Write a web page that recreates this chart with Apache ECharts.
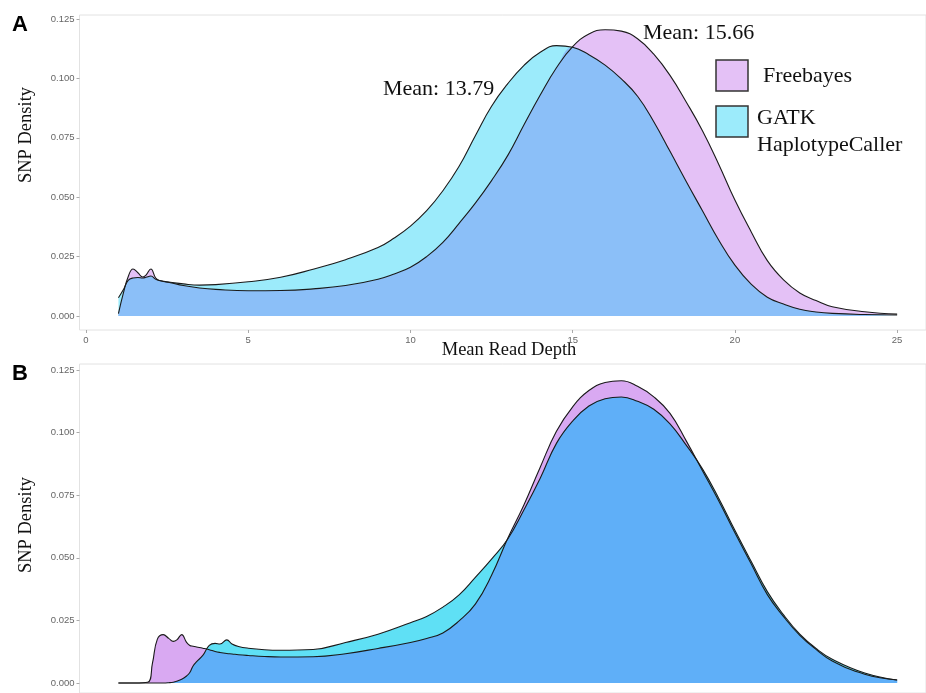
<!DOCTYPE html>
<html><head><meta charset="utf-8">
<script src="https://cdn.jsdelivr.net/npm/echarts@6/dist/echarts.min.js"></script>
<style>html,body{margin:0;padding:0;background:#fff}#c{width:926px;height:693px}</style>
</head><body><div id="c"></div>
<script>
// ---- Panel A data (Mean Read Depth vs SNP Density) ----
const depthA = [1.0,1.15,1.3,1.45,1.6,1.75,1.85,2.0,2.15,2.3,2.6,3.0,3.5,4.0,5.0,6.0,7.0,8.0,9.0,9.5,10.0,10.5,11.0,11.5,12.0,12.5,13.0,13.5,14.0,14.5,15.0,15.5,16.0,16.5,17.0,17.5,18.0,18.5,19.0,19.5,20.0,20.5,21.0,21.5,22.0,22.5,23.0,24.0,25.0];
const freebayesA = [0.001,0.0095,0.0165,0.0198,0.0182,0.0164,0.0172,0.0198,0.016,0.0148,0.014,0.0128,0.0118,0.0112,0.0106,0.0107,0.0114,0.0128,0.0155,0.0177,0.0205,0.025,0.031,0.039,0.0475,0.057,0.0676,0.0805,0.093,0.1045,0.1134,0.1187,0.1205,0.1199,0.1167,0.1102,0.1013,0.0901,0.078,0.0639,0.0488,0.0355,0.0233,0.0152,0.0097,0.0065,0.0039,0.0018,0.0008];
const gatkA = [0.0077,0.011,0.015,0.016,0.0162,0.016,0.0163,0.0168,0.0155,0.0148,0.0142,0.0135,0.013,0.0132,0.0144,0.0163,0.0197,0.0237,0.0288,0.0328,0.0378,0.0443,0.0527,0.063,0.0759,0.0883,0.0978,0.1055,0.111,0.1138,0.1131,0.11,0.1056,0.0998,0.0925,0.0818,0.0693,0.0566,0.0443,0.032,0.0214,0.0134,0.0079,0.005,0.0028,0.0017,0.0011,0.0006,0.0004];

// ---- Panel B data ----
const depthB = [1.0,1.5,1.9,2.05,2.2,2.38,2.55,2.69,2.8,2.95,3.1,3.2,3.3,3.41,3.6,3.8,3.98,4.13,4.34,4.5,4.7,5.0,5.5,6.0,7.0,8.0,9.0,10.0,10.5,11.0,11.5,12.0,12.5,13.0,13.5,14.0,14.5,15.0,15.5,16.0,16.5,17.0,17.5,18.0,18.5,19.0,19.5,20.0,20.5,21.0,21.5,22.0,22.5,23.0,24.0,25.0];
const freebayesB = [0,0,0.0003,0.008,0.0175,0.0193,0.0178,0.0166,0.0172,0.0193,0.0162,0.015,0.0147,0.0144,0.0139,0.0133,0.0126,0.0122,0.0118,0.0116,0.0113,0.011,0.0106,0.0104,0.0105,0.0117,0.0138,0.0162,0.0178,0.02,0.0248,0.0315,0.043,0.0578,0.0712,0.0862,0.1005,0.1103,0.1168,0.12,0.1207,0.1185,0.1143,0.1077,0.0967,0.0848,0.0728,0.06,0.0476,0.0353,0.0265,0.019,0.0134,0.0088,0.0035,0.0012];
const gatkB = [0,0,0,0,0,0,0.0001,0.0003,0.0007,0.0015,0.0028,0.0042,0.0068,0.0085,0.011,0.015,0.0158,0.0156,0.0172,0.0156,0.0146,0.0139,0.0133,0.0131,0.0134,0.0162,0.0195,0.0241,0.0266,0.0303,0.0352,0.0422,0.0495,0.0575,0.0692,0.0818,0.0957,0.1046,0.1106,0.1135,0.1142,0.1125,0.1093,0.1035,0.095,0.0855,0.0738,0.061,0.0486,0.0365,0.0272,0.0195,0.0138,0.0095,0.004,0.0012];

// ---- Labels / ticks ----
const xTicks = [0,5,10,15,20,25];
const yTicks = [0,0.025,0.05,0.075,0.1,0.125];
const seriesNames = ['Freebayes','GATK HaplotypeCaller'];
const meanFreebayes = 'Mean: 15.66';
const meanGatk = 'Mean: 13.79';
const xTitle = 'Mean Read Depth';
const yTitle = 'SNP Density';

const colA = {pink:'#E4C1F6', cyan:'#9CEBFB', both:'#8BBFF8'};
const colB = {pink:'#D9A9F2', cyan:'#5FE0F5', both:'#5FAFF8'};

function pairs(xs, ys){ return xs.map((x,i)=>[x, ys[i]]); }
function mins(a,b){ return a.map((v,i)=>Math.min(v,b[i])); }

function panelSeries(idx, xs, f, g, col){
  const base = {type:'line', xAxisIndex:idx, yAxisIndex:idx, smooth:0.45, symbol:'none', silent:true};
  return [
    Object.assign({}, base, {name:seriesNames[0], data:pairs(xs,f), lineStyle:{width:0,opacity:0}, areaStyle:{color:col.pink, opacity:1}, z:1}),
    Object.assign({}, base, {name:seriesNames[1], data:pairs(xs,g), lineStyle:{width:0,opacity:0}, areaStyle:{color:col.cyan, opacity:1}, z:2}),
    Object.assign({}, base, {name:'overlap', data:pairs(xs,mins(f,g)), lineStyle:{width:0,opacity:0}, areaStyle:{color:col.both, opacity:1}, z:3}),
    Object.assign({}, base, {name:seriesNames[0]+' line', data:pairs(xs,f), lineStyle:{width:1.1,color:'#1a1a1a'}, z:4}),
    Object.assign({}, base, {name:seriesNames[1]+' line', data:pairs(xs,g), lineStyle:{width:1.1,color:'#1a1a1a'}, z:5})
  ];
}

const tickFont = {fontFamily:'Liberation Sans', fontSize:9.5, color:'#666'};
function xAx(idx, showLabels){
  return {type:'value', gridIndex:idx, min:-0.2, max:25.89,
    splitLine:{show:false}, axisLine:{show:false, onZero:false},
    axisTick:{show:showLabels, customValues:xTicks, length:3, lineStyle:{color:'#aaa'}},
    axisLabel:Object.assign({show:showLabels, customValues:xTicks, margin:5}, tickFont)};
}
function yAx(idx, min, max){
  return {type:'value', gridIndex:idx, min:min, max:max,
    splitLine:{show:false}, axisLine:{show:false, onZero:false},
    axisTick:{show:true, customValues:yTicks, length:3, lineStyle:{color:'#aaa'}},
    axisLabel:Object.assign({customValues:yTicks, margin:5, formatter:v=>v.toFixed(3)}, tickFont)};
}

const serif = 'Liberation Serif';
function txt(x,y,text,size,opts){
  return Object.assign({type:'text', x:x, y:y, silent:true,
    style:Object.assign({text:text, fontFamily:serif, fontSize:size, fill:'#111', align:'left', verticalAlign:'middle'}, (opts&&opts.style)||{})},
    opts && opts.rotation ? {rotation:opts.rotation} : {});
}

const chart = echarts.init(document.getElementById('c'), null, {renderer:'canvas'});
chart.setOption({
  animation:false,
  backgroundColor:'#fff',
  grid:[
    {left:79.5, top:15, width:846.5, height:315, show:true, borderColor:'#E2E2E2', borderWidth:1, backgroundColor:'transparent'},
    {left:79.5, top:364, width:846.5, height:329, show:true, borderColor:'#E2E2E2', borderWidth:1, backgroundColor:'transparent'}
  ],
  xAxis:[xAx(0,true), xAx(1,false)],
  yAxis:[yAx(0,-0.0059,0.1267), yAx(1,-0.004,0.1274)],
  series:[].concat(panelSeries(0, depthA, freebayesA, gatkA, colA), panelSeries(1, depthB, freebayesB, gatkB, colB)),
  graphic:[
    {type:'text', x:12, y:25, silent:true, style:{text:'A', fontFamily:'Liberation Sans', fontWeight:'bold', fontSize:22, fill:'#000', verticalAlign:'middle'}},
    {type:'text', x:12, y:374, silent:true, style:{text:'B', fontFamily:'Liberation Sans', fontWeight:'bold', fontSize:22, fill:'#000', verticalAlign:'middle'}},
    txt(26,135,yTitle,18.5,{rotation:Math.PI/2, style:{align:'center'}}),
    txt(26,525,yTitle,18.5,{rotation:Math.PI/2, style:{align:'center'}}),
    txt(509,350,xTitle,18.5,{style:{align:'center'}}),
    txt(383,89,meanGatk,22),
    txt(643,33,meanFreebayes,22),
    {type:'rect', silent:true, shape:{x:716, y:60, width:32, height:31}, style:{fill:colA.pink, stroke:'#333', lineWidth:1.5}},
    {type:'rect', silent:true, shape:{x:716, y:106, width:32, height:31}, style:{fill:colA.cyan, stroke:'#333', lineWidth:1.5}},
    txt(763,76,seriesNames[0],22),
    txt(757,118,seriesNames[1].split(' ')[0],22),
    txt(757,145,seriesNames[1].split(' ')[1],22)
  ]
});
</script>
</body></html>
